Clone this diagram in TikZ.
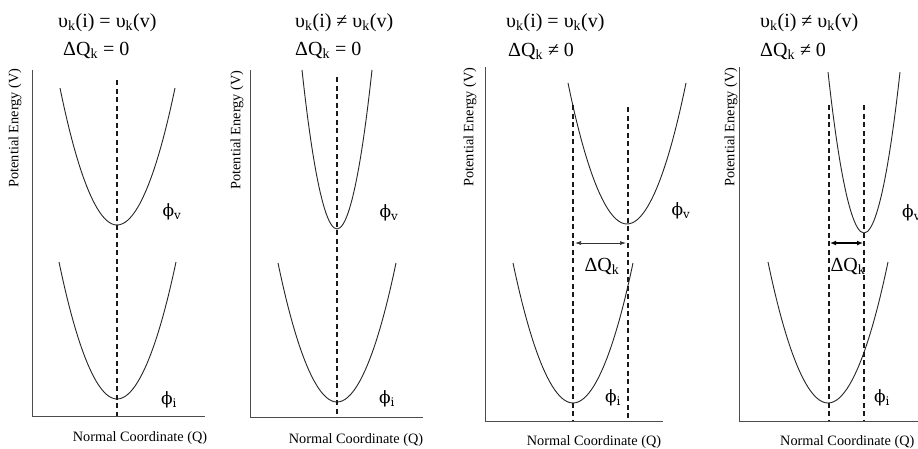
\documentclass[tikz,border=0pt]{standalone}
\usepackage{fontspec}
\setmainfont{Liberation Serif}
\newfontfamily\phifont{DejaVu Serif}
\usetikzlibrary{arrows.meta}
\tikzset{
  curve/.style={line width=0.9pt, black!85},
  axisline/.style={line width=0.9pt, black!70},
  guide/.style={line width=1.4pt, black!90, dash pattern=on 5pt off 3.5pt},
  ttl/.style={font=\fontsize{20}{20}\selectfont, inner sep=0pt, anchor=west},
  axlabel/.style={font=\fontsize{14.3}{14.3}\selectfont, inner sep=0pt},
  statelabel/.style={font=\phifont\fontsize{17}{17}\selectfont, inner sep=0pt},
  dqlabel/.style={font=\fontsize{20}{20}\selectfont, inner sep=0pt},
  dqthin/.style={{Latex[length=6pt,width=4pt]}-{Latex[length=6pt,width=4pt]}, line width=0.7pt, black!80},
  dqthick/.style={{Latex[length=6pt,width=5pt]}-{Latex[length=6pt,width=5pt]}, line width=1.5pt},
}
\newcommand{\phiv}{ϕ\textsubscript{v}}
\newcommand{\phii}{ϕ\textsubscript{i}}
\begin{document}
\begin{tikzpicture}[x=1pt,y=-1pt]
\useasboundingbox (0,0) rectangle (918,448);
\fill[white] (0,0) rectangle (918,448);

% ---------- panel 1 ----------
\node[ttl] (t1a) at (58,23) {υ\textsubscript{k}(i) = υ\textsubscript{k}(v)};
\node[ttl] (t1b) at (63,50) {ΔQ\textsubscript{k} = 0};
\draw[axisline] (32,70) -- (32,416) -- (205,416);
\node[axlabel, rotate=90] (y1) at (15,128) {Potential Energy (V)};
\node[axlabel] (x1) at (140,438) {Normal Coordinate (Q)};
\draw[curve] (60,88) parabola bend (117,225) (175,88);
\draw[curve] (59,262) parabola bend (117,399) (176,262);
\draw[guide] (117,80) -- (117,416);
\node[statelabel] (v1) at (172,212) {\phiv};
\node[statelabel] (i1) at (169,400) {\phii};

% ---------- panel 2 ----------
\node[ttl] (t2a) at (295,23) {υ\textsubscript{k}(i) ≠ υ\textsubscript{k}(v)};
\node[ttl] (t2b) at (295,50) {ΔQ\textsubscript{k} = 0};
\draw[axisline] (250,70) -- (250,417) -- (423,417);
\node[axlabel, rotate=90] (y2) at (237,130) {Potential Energy (V)};
\node[axlabel] (x2) at (356,440) {Normal Coordinate (Q)};
\draw[curve] (302,70) parabola bend (337,229) (372,70);
\draw[curve] (278,263) parabola bend (337,402) (396,263);
\draw[guide] (337,77) -- (337,417);
\node[statelabel] (v2) at (389,213) {\phiv};
\node[statelabel] (i2) at (387,399) {\phii};

% ---------- panel 3 ----------
\node[ttl] (t3a) at (506,23) {υ\textsubscript{k}(i) = υ\textsubscript{k}(v)};
\node[ttl] (t3b) at (508,51) {ΔQ\textsubscript{k} ≠ 0};
\draw[axisline] (485,67) -- (485,421) -- (663,421);
\node[axlabel, rotate=90] (y3) at (470,127) {Potential Energy (V)};
\node[axlabel] (x3) at (594,442) {Normal Coordinate (Q)};
\draw[curve] (568,83) parabola bend (627,224) (686,83);
\draw[curve] (513,263) parabola bend (573,403) (633,263);
\coordinate (a3) at (573,105);
\coordinate (b3) at (573,421);
\coordinate (c3) at (628,107);
\coordinate (d3) at (628,421);
\draw[guide] (a3) -- (b3);
\draw[guide] (c3) -- (d3);
\coordinate (l3) at (575,243);
\coordinate (r3) at (626,243);
\draw[dqthin] (l3) -- (r3);
\node[dqlabel] (dq3) at (602,266) {ΔQ\textsubscript{k}};
\node[statelabel] (v3) at (681,211) {\phiv};
\node[statelabel] (i3) at (613,398) {\phii};

% ---------- panel 4 ----------
\node[ttl] (t4a) at (760,23) {υ\textsubscript{k}(i) ≠ υ\textsubscript{k}(v)};
\node[ttl] (t4b) at (760,51) {ΔQ\textsubscript{k} ≠ 0};
\draw[axisline] (739,67) -- (739,421) -- (918,421);
\node[axlabel, rotate=90] (y4) at (731,127) {Potential Energy (V)};
\node[axlabel, anchor=west] (x4) at (780,442) {Normal Coordinate (Q)};
\draw[curve] (828,72) parabola bend (864,233) (900,72);
\draw[curve] (768,262) parabola bend (828,403) (888,262);
\coordinate (a4) at (829,105);
\coordinate (b4) at (829,421);
\coordinate (c4) at (864,105);
\coordinate (d4) at (864,421);
\draw[guide] (a4) -- (b4);
\draw[guide] (c4) -- (d4);
\coordinate (l4) at (830,243);
\coordinate (r4) at (863,243);
\draw[dqthick] (l4) -- (r4);
\node[dqlabel] (dq4) at (848,266) {ΔQ\textsubscript{k}};
\node[statelabel, anchor=west] (v4) at (902,213) {\phiv};
\node[statelabel] (i4) at (882,398) {\phii};
\end{tikzpicture}
\end{document}
